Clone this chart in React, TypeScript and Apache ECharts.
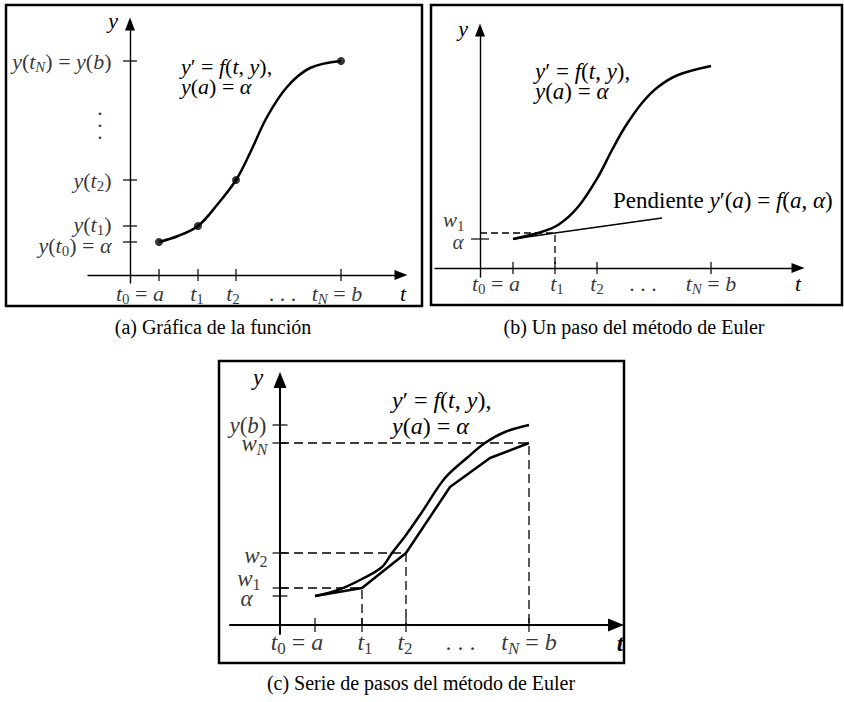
import React, { useEffect, useRef } from "react";
import * as echarts from "echarts";

// ---------- Panel (a): Gráfica de la función ----------
const tA = [2.9, 6.8, 10.6, 21.1]; // a, t1, t2, tN
const yA = [3.3, 4.9, 9.5, 21.4]; // y(t0), y(t1), y(t2), y(tN)
const curveAx = [2.9, 4.8, 6.8, 8.7, 10.6, 12.0, 13.7, 15.7, 18.0, 21.1];
const curveAy = [3.3, 3.9, 4.9, 7.0, 9.5, 12.2, 15.8, 18.8, 20.7, 21.4];
const xLabelsA = ["t_0 = a", "t_1", "t_2", "t_N = b"];
const yLabelsA = ["y(t_0) = α", "y(t_1)", "y(t_2)", "y(t_N) = y(b)"];

// ---------- Panel (b): Un paso del método de Euler ----------
const tB = [3.3, 7.5, 11.7, 23.1];
const alphaB = 2.9;
const w1B = 3.5;
const curveBx = [3.3, 5.8, 7.8, 9.8, 11.8, 13.2, 14.5, 16.2, 17.8, 19.8, 23.1];
const curveBy = [2.9, 3.5, 4.3, 6.1, 9.1, 11.8, 14.1, 16.5, 18.1, 19.3, 20.2];
const tangentBx = [3.3, 7.5, 18.2];
const tangentBy = [2.9, 3.5, 5.0];
const xLabelsB = ["t_0 = a", "t_1", "t_2", "t_N = b"];

// ---------- Panel (c): Serie de pasos del método de Euler ----------
const tC = [3.5, 8.2, 12.6, 24.9];
const yTicksC = [2.9, 3.7, 7.2, 18.2, 20.0];
const yLabelsC = ["α", "w_1", "w_2", "w_N", "y(b)"];
const curveCx = [3.5, 5.8, 8.2, 10.2, 11.2, 12.6, 14.2, 16.5, 18.8, 20.5, 22.5, 24.9];
const curveCy = [2.9, 3.5, 4.6, 5.8, 7.2, 9.0, 11.3, 14.7, 16.8, 18.2, 19.3, 20.0];
const eulerCx = [3.5, 8.2, 12.6, 17.0, 21.0, 24.9];
const eulerCy = [2.9, 3.7, 7.2, 13.8, 16.7, 18.2];
const xLabelsC = ["t_0 = a", "t_1", "t_2", "t_N = b"];

const captions = [
  "(a) Gráfica de la función",
  "(b) Un paso del método de Euler",
  "(c) Serie de pasos del método de Euler",
];
const equation = "y′ = f(t, y),\ny(a) = α";

const SERIF = "'Liberation Serif', 'Times New Roman', Times, serif";

function rich(size: number, lh: number) {
  const sub = Math.round(size * 0.7);
  const pad = Math.round(size * 0.5);
  const base = { fontFamily: SERIF, color: "#000", lineHeight: lh };
  return {
    i: { ...base, fontSize: size, fontStyle: "italic" },
    r: { ...base, fontSize: size, fontStyle: "normal" },
    s: { ...base, fontSize: sub, fontStyle: "normal", padding: [pad, 0, 0, 0] },
    si: { ...base, fontSize: sub, fontStyle: "italic", padding: [pad, 0, 0, 0] },
    b: { ...base, fontSize: size, fontStyle: "italic", fontWeight: "bold" },
    d: { ...base, fontSize: size, lineHeight: Math.round(size * 0.55) },
  };
}

function tex(s: string): string {
  let out = "";
  for (let k = 0; k < s.length; k++) {
    const c = s[k];
    if (c === "_") {
      const n = s[++k];
      out += /[A-Za-z]/.test(n) ? `{si|${n}}` : `{s|${n}}`;
    } else if (c === "\n") out += "\n";
    else if (/[A-Za-zα]/.test(c)) out += `{i|${c}}`;
    else out += `{r|${c}}`;
  }
  return out;
}

const zip = (xs: number[], ys: number[]) => xs.map((x, k) => [x, ys[k]]);

type Lab = { value: number[]; text: string; pos: any; off: number[]; dist?: number };

function labelSeries(gi: number, items: Lab[], size: number, lh: number) {
  return {
    type: "scatter",
    xAxisIndex: gi,
    yAxisIndex: gi,
    symbol: "circle",
    symbolSize: 1,
    silent: true,
    z: 6,
    itemStyle: { color: "rgba(0,0,0,0)" },
    data: items.map((it) => ({
      value: it.value,
      label: {
        show: true,
        position: it.pos,
        distance: it.dist ?? 5,
        offset: it.off,
        formatter: () => it.text,
        rich: rich(size, lh),
      },
    })),
  };
}

function tickSeries(gi: number, pts: number[][], size: number[]) {
  return {
    type: "scatter",
    xAxisIndex: gi,
    yAxisIndex: gi,
    symbol: "rect",
    symbolSize: size,
    silent: true,
    z: 4,
    itemStyle: { color: "#000" },
    data: pts,
  };
}

function lineSeries(gi: number, data: number[][], width: number, smooth: any, dash?: any) {
  return {
    type: "line",
    xAxisIndex: gi,
    yAxisIndex: gi,
    data,
    smooth,
    symbol: "none",
    silent: true,
    z: 3,
    lineStyle: { color: "#000", width, type: dash || "solid" },
  };
}

function buildOption() {
  const grids = [
    { left: 88, top: 24, width: 313, height: 259 },
    { left: 435, top: 30, width: 363, height: 247 },
    { left: 230, top: 380, width: 386, height: 254 },
  ];
  const ranges = [
    { x: [-4.2, 27.1], y: [-0.8, 25.1], arrow: [10, 13], w: 1.4 },
    { x: [-4.5, 31.8], y: [-0.9, 23.8], arrow: [10, 13], w: 1.4 },
    { x: [-5.0, 33.6], y: [-0.9, 24.5], arrow: [13, 16], w: 2 },
  ];
  const axis = (gi: number, dim: "x" | "y") => ({
    type: "value",
    gridIndex: gi,
    min: ranges[gi][dim][0],
    max: ranges[gi][dim][1],
    axisLine: {
      show: true,
      onZero: true,
      symbol: ["none", "triangle"],
      symbolSize: ranges[gi].arrow,
      lineStyle: { color: "#000", width: ranges[gi].w },
    },
    axisTick: { show: false },
    axisLabel: { show: false },
    splitLine: { show: false },
  });

  const series: any[] = [];

  // ---- Panel (a)
  series.push(lineSeries(0, zip(curveAx, curveAy), 2.5, 0.35));
  series.push({
    type: "scatter",
    xAxisIndex: 0,
    yAxisIndex: 0,
    symbol: "circle",
    symbolSize: 8,
    itemStyle: { color: "#000" },
    silent: true,
    z: 5,
    data: zip(tA, yA),
  });
  series.push(tickSeries(0, tA.map((t) => [t, 0]), [1.5, 12]));
  series.push(tickSeries(0, yA.map((y) => [0, y]), [14, 1.5]));
  const offXA = [-19, -1, -3, -4];
  const xlA: Lab[] = tA.map((t, k) => ({ value: [t, 0], text: tex(xLabelsA[k]), pos: "inside", off: [offXA[k], 18] }));
  xlA.push({ value: [(tA[2] + tA[3]) / 2, 0], text: tex(". . ."), pos: "inside", off: [-6, 18] });
  series.push(labelSeries(0, xlA, 22, 24));
  const offYA = [3, -2, 0, 0];
  const ylA: Lab[] = yA.map((y, k) => ({ value: [0, y], text: tex(yLabelsA[k]), pos: "left", dist: 18, off: [0, offYA[k]] }));
  ylA.push({ value: [0, (yA[2] + yA[3]) / 2], text: "{d|.}\n{d|.}\n{d|.}", pos: "inside", off: [-30, -1] });
  series.push(labelSeries(0, ylA, 22, 24));

  // ---- Panel (b)
  series.push(lineSeries(1, zip(curveBx, curveBy), 2.5, 0.35));
  series.push(lineSeries(1, zip(tangentBx, tangentBy), 1.3, false));
  series.push(lineSeries(1, [[0, w1B], [tB[1], w1B], [tB[1], 0]], 1.3, false, [7, 4]));
  series.push(tickSeries(1, tB.map((t) => [t, 0]), [1.5, 12]));
  series.push(tickSeries(1, [[0, alphaB]], [18, 1.5]));
  const offXB = [-17, 2, 0, 0];
  const xlB: Lab[] = tB.map((t, k) => ({ value: [t, 0], text: tex(xLabelsB[k]), pos: "inside", off: [offXB[k], 15] }));
  xlB.push({ value: [(tB[2] + tB[3]) / 2, 0], text: tex(". . ."), pos: "inside", off: [-11, 15] });
  series.push(labelSeries(1, xlB, 22, 24));
  series.push(
    labelSeries(
      1,
      [
        { value: [0, alphaB], text: tex("α"), pos: "left", dist: 16, off: [0, 3] },
        { value: [0, w1B], text: tex("w_1"), pos: "left", dist: 15, off: [0, -13] },
      ],
      21,
      16
    )
  );

  // ---- Panel (c)
  series.push(lineSeries(2, zip(curveCx, curveCy), 2.5, 0.35));
  series.push(lineSeries(2, zip(eulerCx, eulerCy), 2.5, false));
  for (let k = 1; k <= 3; k++) {
    const t = tC[k];
    const w = yTicksC[k];
    series.push(lineSeries(2, [[0, w], [t, w], [t, 0]], 1.3, false, [9, 5]));
  }
  series.push(tickSeries(2, tC.map((t) => [t, 0]), [1.5, 14]));
  series.push(tickSeries(2, yTicksC.map((y) => [0, y]), [15, 1.5]));
  const offXC = [-18, 3, -1, 0];
  const xlC: Lab[] = tC.map((t, k) => ({ value: [t, 0], text: tex(xLabelsC[k]), pos: "inside", off: [offXC[k], 17] }));
  xlC.push({ value: [(tC[2] + tC[3]) / 2, 0], text: tex(". . ."), pos: "inside", off: [-7, 17] });
  series.push(labelSeries(2, xlC, 24, 26));
  const distC = [27, 19, 12, 12, 13];
  const offYC = [2, -10, 2, 0, 0];
  series.push(
    labelSeries(
      2,
      yTicksC.map((y, k) => ({ value: [0, y], text: tex(yLabelsC[k]), pos: "left", dist: distC[k], off: [0, offYC[k]] })),
      23,
      18
    )
  );

  const box = (x: number, y: number, w: number, h: number) => ({
    type: "rect",
    shape: { x, y, width: w, height: h },
    style: { fill: "none", stroke: "#000", lineWidth: 2.5 },
    silent: true,
  });
  const txt = (x: number, y: number, text: string, size: number, lh: number, align = "left", valign = "top") => ({
    type: "text",
    x,
    y,
    silent: true,
    style: { text, rich: rich(size, lh), align, verticalAlign: valign, fill: "#000", fontFamily: SERIF, fontSize: size },
  });
  const caption = (x: number, y: number, text: string) => ({
    type: "text",
    x,
    y,
    silent: true,
    style: { text, fontFamily: SERIF, fontSize: 20, fill: "#000", align: "center", verticalAlign: "middle" },
  });

  const graphic: any[] = [
    box(6, 5, 416, 301),
    box(431, 5, 411, 300),
    box(219, 361, 405, 302),
    // axis names
    txt(113, 20, tex("y"), 22, 24, "center", "middle"),
    txt(403, 293, tex("t"), 22, 24, "center", "middle"),
    txt(463, 28, tex("y"), 22, 24, "center", "middle"),
    txt(798, 283, tex("t"), 22, 24, "center", "middle"),
    txt(258, 377, tex("y"), 23, 24, "center", "middle"),
    txt(620, 643, "{b|t}", 24, 26, "center", "middle"),
    // equations
    txt(181, 56, tex(equation), 22, 20, "left", "top"),
    txt(535, 61, tex(equation), 23, 20, "left", "top"),
    txt(392, 387, tex(equation), 24, 26, "left", "top"),
    // slope annotation
    txt(613, 200, "{r|Pendiente }" + tex("y′(a) = f(a, α)"), 23, 24, "left", "middle"),
    // captions
    caption(213, 327, captions[0]),
    caption(634, 327, captions[1]),
    caption(421, 683, captions[2]),
  ];

  return {
    animation: false,
    backgroundColor: "#fff",
    textStyle: { fontFamily: SERIF },
    grid: grids.map((g) => ({ ...g, containLabel: false, outerBoundsMode: "none" })),
    xAxis: [0, 1, 2].map((gi) => axis(gi, "x")),
    yAxis: [0, 1, 2].map((gi) => axis(gi, "y")),
    series,
    graphic,
  };
}

export default function App() {
  const ref = useRef<HTMLDivElement>(null);
  useEffect(() => {
    const chart = echarts.init(ref.current!, null, { renderer: "svg", width: 844, height: 702 });
    chart.setOption(buildOption() as any);
    return () => chart.dispose();
  }, []);
  return (
    <div
      ref={ref}
      style={{ position: "fixed", left: 0, top: 0, width: 844, height: 702, background: "#fff" }}
    />
  );
}
